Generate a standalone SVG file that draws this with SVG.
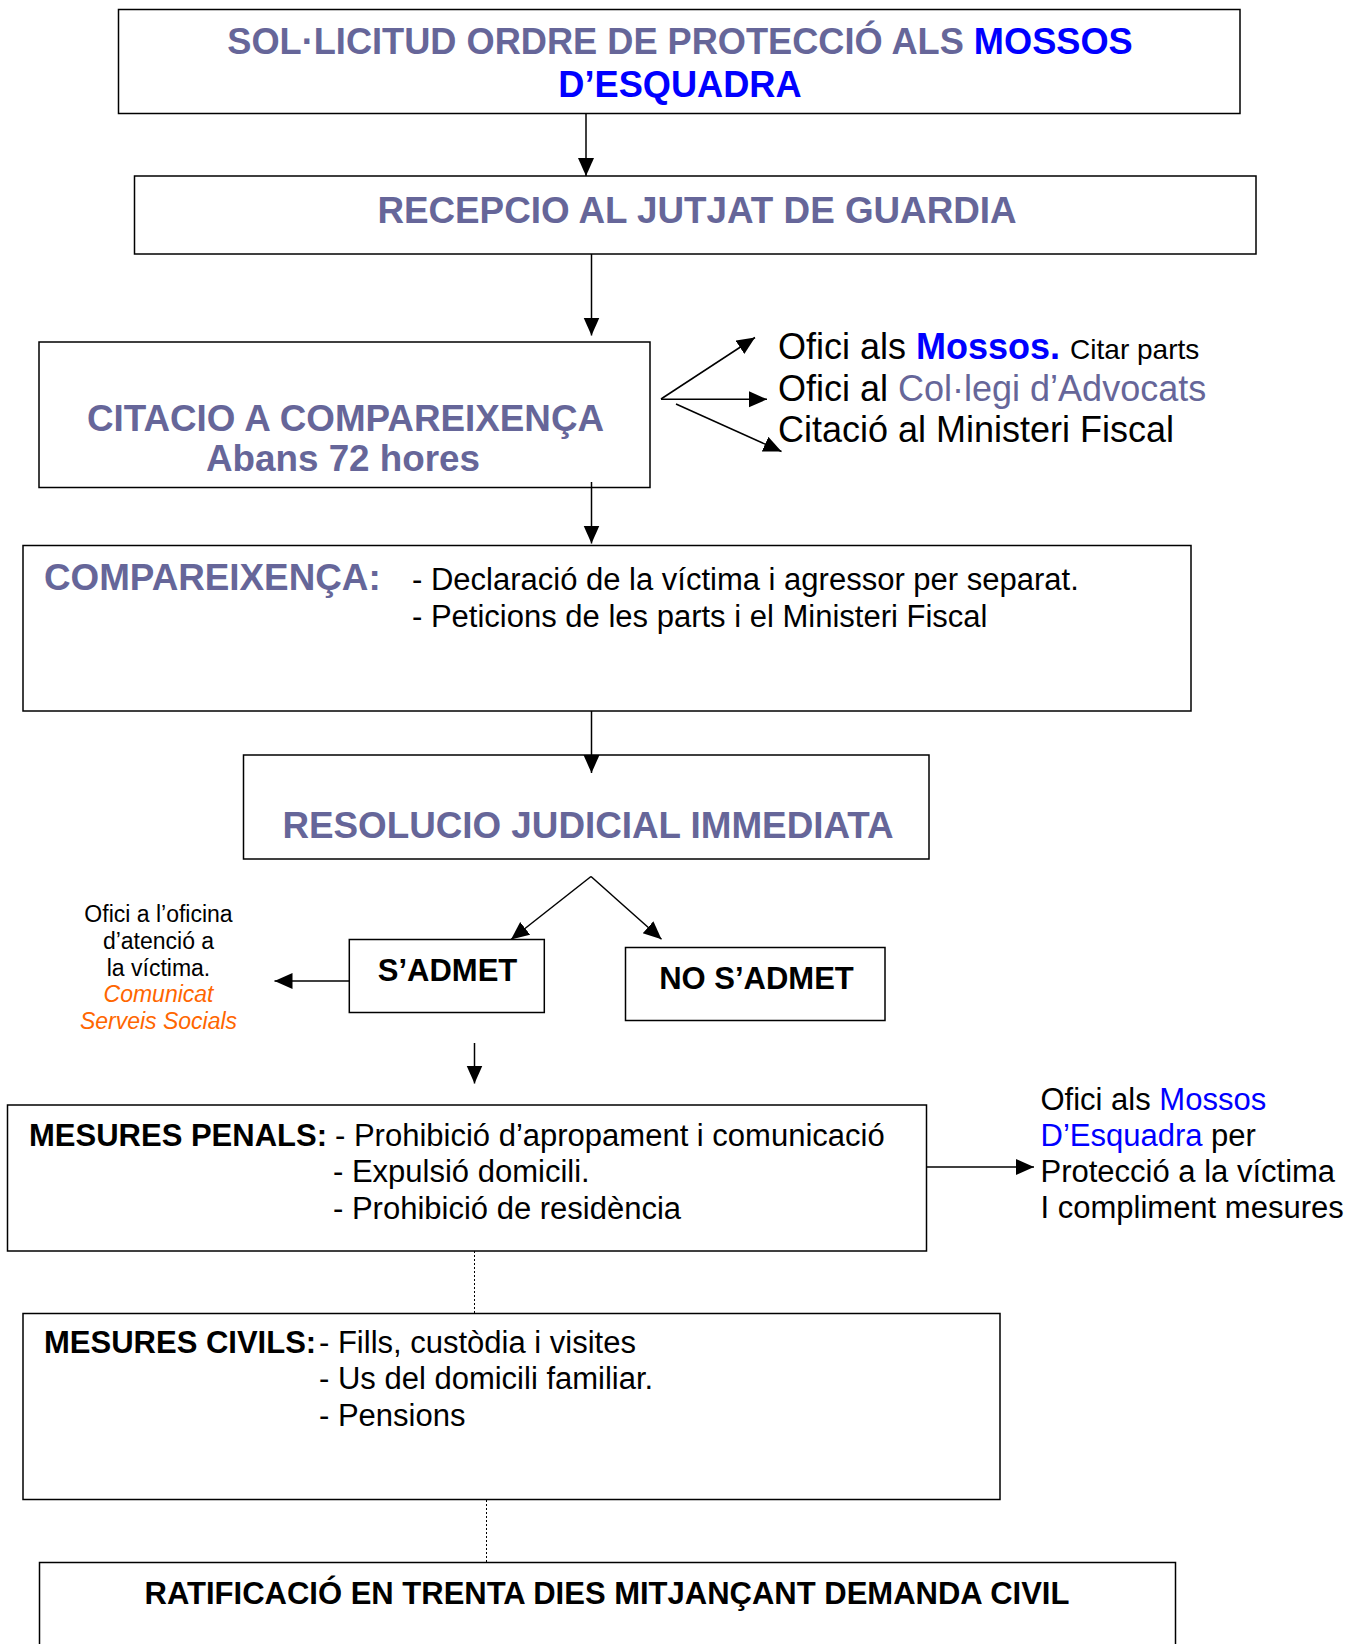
<svg xmlns="http://www.w3.org/2000/svg" width="1358" height="1644" viewBox="0 0 1358 1644">
<style>
text{font-family:"Liberation Sans",Arial,sans-serif;}
.box{fill:none;stroke:#000;stroke-width:1.5;}
.ttl{font-size:36.8px;font-weight:bold;fill:#666699;}
.top{font-size:36.2px;}
.blu{fill:#0000ff;}
.slate{fill:#666699;}
.reg{font-size:31px;fill:#000;}
.big{font-size:36px;fill:#000;}
.bold31{font-size:31px;font-weight:bold;fill:#000;}
.small{font-size:23px;fill:#000;}
.orange{fill:#ff6600;font-style:italic;}
.conn{stroke:#000;stroke-width:1.5;fill:none;}
.dot{stroke:#000;stroke-width:1;stroke-dasharray:2 2;fill:none;}
</style>
<defs>
<marker id="ah" markerUnits="userSpaceOnUse" markerWidth="20" markerHeight="18" refX="18" refY="8" orient="auto">
<path d="M0,0 L18,8 L0,16 Z" fill="#000"/>
</marker>
</defs>
<rect width="1358" height="1644" fill="#fff"/>

<g id="connectors">
<line class="conn" x1="586" y1="113.5" x2="586" y2="176" marker-end="url(#ah)"/>
<line class="conn" x1="591.5" y1="254" x2="591.5" y2="335.5" marker-end="url(#ah)"/>
<line class="conn" x1="661" y1="399" x2="755" y2="337.5" marker-end="url(#ah)"/>
<line class="conn" x1="661" y1="399.3" x2="767" y2="399.3" marker-end="url(#ah)"/>
<line class="conn" x1="676" y1="404" x2="781.5" y2="451.5" marker-end="url(#ah)"/>
<line class="conn" x1="591.5" y1="482" x2="591.5" y2="543.5" marker-end="url(#ah)"/>
<line class="conn" x1="591.5" y1="711" x2="591.5" y2="773" marker-end="url(#ah)"/>
<line class="conn" x1="591" y1="876.5" x2="511" y2="939.5" marker-end="url(#ah)"/>
<line class="conn" x1="591" y1="876.5" x2="661.5" y2="939.3" marker-end="url(#ah)"/>
<line class="conn" x1="349.3" y1="981" x2="274.5" y2="981" marker-end="url(#ah)"/>
<line class="conn" x1="474.5" y1="1043" x2="474.5" y2="1083.5" marker-end="url(#ah)"/>
<line class="conn" x1="926.5" y1="1167" x2="1034" y2="1167" marker-end="url(#ah)"/>
<line class="dot" x1="474.5" y1="1251" x2="474.5" y2="1313"/>
<line class="dot" x1="486.5" y1="1500" x2="486.5" y2="1562.5"/>
</g>

<g id="n-solicitud">
<rect class="box" x="118.5" y="9.5" width="1121.5" height="104"/>
<text class="ttl top" x="680" y="54" text-anchor="middle">SOL·LICITUD ORDRE DE PROTECCIÓ ALS <tspan class="blu">MOSSOS</tspan></text>
<text class="ttl top blu" x="680" y="97" text-anchor="middle">D’ESQUADRA</text>
</g>

<g id="n-recepcio">
<rect class="box" x="134.5" y="176" width="1121.5" height="78"/>
<text class="ttl" x="697" y="222.5" text-anchor="middle">RECEPCIO AL JUTJAT DE GUARDIA</text>
</g>

<g id="n-citacio">
<rect class="box" x="39" y="342" width="611" height="145.5"/>
<text class="ttl" x="345.5" y="430.5" text-anchor="middle">CITACIO A COMPAREIXENÇA</text>
<text class="ttl" x="343" y="471" text-anchor="middle">Abans 72 hores</text>
</g>

<g id="n-oficis">
<text class="big" x="778" y="358.5">Ofici als <tspan class="blu" font-weight="bold">Mossos.</tspan> <tspan font-size="28">Citar parts</tspan></text>
<text class="big" x="778" y="401">Ofici al <tspan class="slate">Col·legi d’Advocats</tspan></text>
<text class="big" x="778" y="442">Citació al Ministeri Fiscal</text>
</g>

<g id="n-compareixenca">
<rect class="box" x="23" y="545.5" width="1168" height="165.5"/>
<text class="ttl" x="44" y="590">COMPAREIXENÇA:</text>
<text class="reg" x="412" y="590">- Declaració de la víctima i agressor per separat.</text>
<text class="reg" x="412" y="627">- Peticions de les parts i el Ministeri Fiscal</text>
</g>

<g id="n-resolucio">
<rect class="box" x="243.5" y="755" width="685.5" height="104"/>
<text class="ttl" x="588" y="837.5" text-anchor="middle">RESOLUCIO JUDICIAL IMMEDIATA</text>
</g>

<g id="n-sadmet">
<rect class="box" x="349.3" y="939.5" width="195" height="73"/>
<text class="bold31" x="447.5" y="981" text-anchor="middle">S’ADMET</text>
</g>

<g id="n-nosadmet">
<rect class="box" x="625.5" y="947.5" width="259.5" height="73"/>
<text class="bold31" x="756.5" y="989" text-anchor="middle">NO S’ADMET</text>
</g>

<g id="n-oficina">
<text class="small" x="158.5" y="922" text-anchor="middle">Ofici a l’oficina</text>
<text class="small" x="158.5" y="949" text-anchor="middle">d’atenció a</text>
<text class="small" x="158.5" y="975.5" text-anchor="middle">la víctima.</text>
<text class="small orange" x="158.5" y="1002" text-anchor="middle">Comunicat</text>
<text class="small orange" x="158.5" y="1029" text-anchor="middle">Serveis Socials</text>
</g>

<g id="n-penals">
<rect class="box" x="7.5" y="1105" width="919" height="146"/>
<text class="bold31" x="29" y="1146">MESURES PENALS:</text>
<text class="reg" x="335" y="1146">- Prohibició d’apropament i comunicació</text>
<text class="reg" x="333" y="1182">- Expulsió domicili.</text>
<text class="reg" x="333" y="1219">- Prohibició de residència</text>
</g>

<g id="n-proteccio">
<text class="reg" x="1040.5" y="1109.5">Ofici als <tspan class="blu">Mossos</tspan></text>
<text class="reg" x="1040.5" y="1146"><tspan class="blu">D’Esquadra</tspan> per</text>
<text class="reg" x="1040.5" y="1181.5">Protecció a la víctima</text>
<text class="reg" x="1040.5" y="1217.5">I compliment mesures</text>
</g>

<g id="n-civils">
<rect class="box" x="23" y="1313.5" width="977" height="186"/>
<text class="bold31" x="44" y="1353">MESURES CIVILS:</text>
<text class="reg" x="319" y="1353">- Fills, custòdia i visites</text>
<text class="reg" x="319" y="1389">- Us del domicili familiar.</text>
<text class="reg" x="319" y="1426">- Pensions</text>
</g>

<g id="n-ratificacio">
<rect class="box" x="39.5" y="1562.5" width="1136" height="120"/>
<text class="bold31" x="607" y="1604" text-anchor="middle">RATIFICACIÓ EN TRENTA DIES MITJANÇANT DEMANDA CIVIL</text>
</g>
</svg>
